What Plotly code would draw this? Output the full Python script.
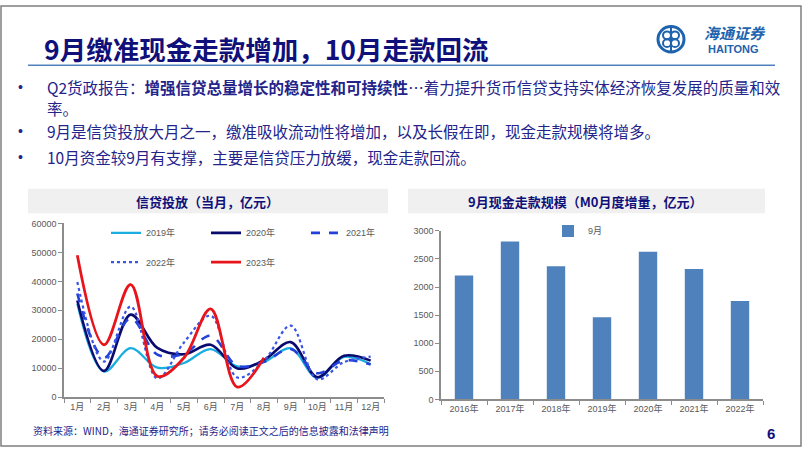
import plotly.graph_objects as go

W, H = 802, 452

months = ["1月", "2月", "3月", "4月", "5月", "6月", "7月", "8月", "9月", "10月", "11月", "12月"]
credit_2019 = [32300, 8858, 16900, 10200, 11800, 16600, 10600, 12100, 16900, 6613, 13900, 11400]
credit_2020 = [33400, 9057, 28500, 17000, 14800, 18100, 9927, 12800, 19000, 6898, 14300, 12600]
credit_2021 = [35800, 13600, 27300, 14700, 15000, 21200, 10800, 12200, 16600, 8262, 12700, 11300]
credit_2022 = [39800, 12300, 31300, 6454, 18900, 28100, 6790, 12500, 24700, 6152, 12100, 14000]
credit_2023 = [49000, 18100, 38900, 7188, 13600, 30500, 3459, 13600]

years = ["2016年", "2017年", "2018年", "2019年", "2020年", "2021年", "2022年"]
m0_sep = [2205, 2810, 2370, 1463, 2630, 2322, 1753]

left_y_ticks = [0, 10000, 20000, 30000, 40000, 50000, 60000]
right_y_ticks = [0, 500, 1000, 1500, 2000, 2500, 3000]


def px(x):
    return x / W


def py(y):
    return 1 - y / H


fig = go.Figure()

series = [
    ("2019年", credit_2019, "#1AADE0", 2.2, "solid", "legend"),
    ("2020年", credit_2020, "#0A0A6E", 2.6, "solid", "legend"),
    ("2021年", credit_2021, "#2340D8", 2.6, "dash", "legend"),
    ("2022年", credit_2022, "#3A55E6", 2.2, "dot", "legend2"),
    ("2023年", credit_2023, "#E8141C", 2.8, "solid", "legend2"),
]
for name, vals, color, width, dash, lg in series:
    fig.add_trace(go.Scatter(
        x=months[:len(vals)], y=vals, name=name, mode="lines",
        line=dict(color=color, width=width, dash=dash, shape="spline", smoothing=1.0),
        xaxis="x", yaxis="y", legend=lg,
    ))

fig.add_trace(go.Bar(
    x=years, y=m0_sep, name="9月", marker=dict(color="#4F81BD", line=dict(width=0)),
    xaxis="x2", yaxis="y2", legend="legend3",
))

tickfont = dict(family="Liberation Sans, Arial, Noto Sans CJK SC", size=9, color="#595959")
axis_line = dict(showline=True, linecolor="#8C8C8C", linewidth=1.5, showgrid=False,
                 zeroline=False, ticks="outside", ticklen=4, tickcolor="#8C8C8C",
                 tickfont=tickfont, fixedrange=True, tickangle=0)

fig.update_layout(
    width=W, height=H, margin=dict(l=0, r=0, t=0, b=0),
    paper_bgcolor="white", plot_bgcolor="white",
    bargap=0.6,
    xaxis=dict(domain=[px(64), px(384)], anchor="y", type="category",
               categoryorder="array", categoryarray=months, tickson="boundaries",
               range=[-0.5, 11.5], **axis_line),
    yaxis=dict(domain=[py(401), py(223.4)], anchor="x", range=[0, 60000],
               tickvals=left_y_ticks, ticktext=[str(v) for v in left_y_ticks], **axis_line),
    xaxis2=dict(domain=[px(441), px(763)], anchor="y2", type="category",
                categoryorder="array", categoryarray=years, tickson="boundaries",
                range=[-0.5, 6.5], **axis_line),
    yaxis2=dict(domain=[py(403.3), py(231)], anchor="x2", range=[0, 3000],
                tickvals=right_y_ticks, ticktext=[str(v) for v in right_y_ticks], **axis_line),
    legend=dict(x=px(106), y=py(233), xanchor="left", yanchor="middle", orientation="h",
                entrywidth=55, font=tickfont, bgcolor="rgba(0,0,0,0)", itemwidth=30,
                tracegroupgap=0),
    legend2=dict(x=px(106), y=py(263), xanchor="left", yanchor="middle", orientation="h",
                 entrywidth=55, font=tickfont, bgcolor="rgba(0,0,0,0)", itemwidth=30),
    legend3=dict(x=px(548), y=py(231), xanchor="left", yanchor="middle", orientation="h",
                 font=tickfont, bgcolor="rgba(0,0,0,0)", itemwidth=30),
    showlegend=True,
)

shapes = []
# slide border
shapes.append(dict(type="rect", xref="paper", yref="paper", x0=px(1), x1=px(801), y0=py(451), y1=py(1),
                   line=dict(color="#7F7F7F", width=1.5), layer="below"))
# title underline
shapes.append(dict(type="line", xref="paper", yref="paper", x0=px(28), x1=px(775), y0=py(61.5), y1=py(61.5),
                   line=dict(color="#4F81BD", width=1.5)))
# chart title boxes
shapes.append(dict(type="rect", xref="paper", yref="paper", x0=px(28), x1=px(388), y0=py(213), y1=py(188),
                   fillcolor="#F0F0F0", line=dict(width=0), layer="below"))
shapes.append(dict(type="rect", xref="paper", yref="paper", x0=px(408), x1=px(765), y0=py(213), y1=py(188),
                   fillcolor="#F0F0F0", line=dict(width=0), layer="below"))
# logo symbol
cx, cy, r = 671, 35, 13
shapes.append(dict(type="circle", xref="paper", yref="paper", x0=px(cx - r), x1=px(cx + r),
                   y0=py(cy + r), y1=py(cy - r), line=dict(color="#1E63AE", width=3)))
for dx, dy in [(-4, -4), (4, -4), (-4, 4), (4, 4)]:
    rr = 4
    shapes.append(dict(type="circle", xref="paper", yref="paper", x0=px(cx + dx - rr), x1=px(cx + dx + rr),
                       y0=py(cy + dy + rr), y1=py(cy + dy - rr), line=dict(color="#1E63AE", width=2)))
shapes.append(dict(type="line", xref="paper", yref="paper", x0=px(cx), x1=px(cx), y0=py(cy + r), y1=py(cy - r),
                   line=dict(color="#1E63AE", width=2)))
fig.update_layout(shapes=shapes)

cjk = "Noto Sans CJK SC"
navy = "#10107A"
text_col = "#23238A"
ann = []
ann.append(dict(text="<b>9月缴准现金走款增加，10月走款回流</b>", x=px(42), y=py(44), xanchor="left", yanchor="middle",
                font=dict(family=cjk, size=26.5, color=navy)))
ann.append(dict(text="<b><i>海通证券</i></b>", x=px(735), y=py(28), xanchor="center", yanchor="middle",
                font=dict(family=cjk, size=15, color="#1E63AE")))
ann.append(dict(text="<b>HAITONG</b>", x=px(733), y=py(45), xanchor="center", yanchor="middle",
                font=dict(family="Liberation Sans, Arial", size=11, color="#1E63AE")))
bullets = [
    (84, "Q2货政报告：<b>增强信贷总量增长的稳定性和可持续性</b>…着力提升货币信贷支持实体经济恢复发展的质量和效"),
    (129, "9月是信贷投放大月之一，缴准吸收流动性将增加，以及长假在即，现金走款规模将增多。"),
    (155, "10月资金较9月有支撑，主要是信贷压力放缓，现金走款回流。"),
]
for yy, t in bullets:
    ann.append(dict(text="•", x=px(16), y=py(yy), xanchor="left", yanchor="middle",
                    font=dict(family="Liberation Sans, Arial", size=14, color=text_col)))
    ann.append(dict(text=t, x=px(45), y=py(yy), xanchor="left", yanchor="middle",
                    font=dict(family=cjk, size=15.5, color=text_col)))
ann.append(dict(text="率。", x=px(45), y=py(105), xanchor="left", yanchor="middle",
                font=dict(family=cjk, size=15.5, color=text_col)))
ann.append(dict(text="<b>信贷投放（当月，亿元）</b>", x=px(207), y=py(200.5), xanchor="center", yanchor="middle",
                font=dict(family=cjk, size=13, color=navy)))
ann.append(dict(text="<b>9月现金走款规模（M0月度增量，亿元）</b>", x=px(585), y=py(200.5), xanchor="center",
                yanchor="middle", font=dict(family=cjk, size=13, color=navy)))
ann.append(dict(text="资料来源：WIND，海通证券研究所；请务必阅读正文之后的信息披露和法律声明", x=px(31), y=py(435),
                xanchor="left", yanchor="middle", font=dict(family=cjk, size=10, color=text_col)))
ann.append(dict(text="<b>6</b>", x=px(771), y=py(438), xanchor="center", yanchor="middle",
                font=dict(family="Liberation Sans, Arial", size=15, color=navy)))
for a in ann:
    a.update(xref="paper", yref="paper", showarrow=False)
fig.update_layout(annotations=ann)

fig.write_html("out.html")
